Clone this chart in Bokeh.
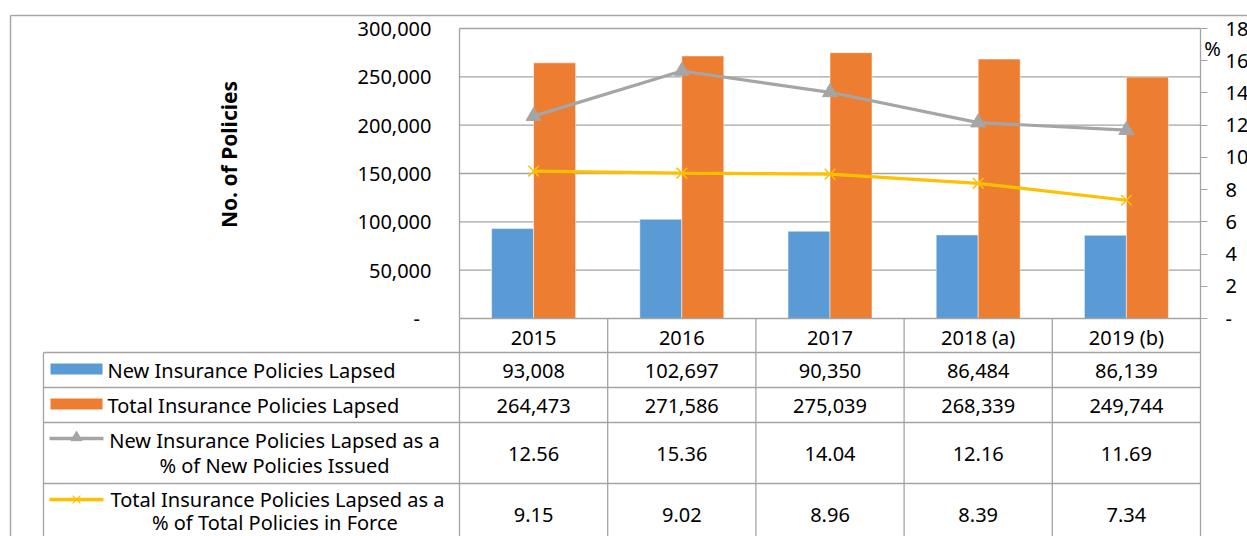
import math
from bokeh.plotting import figure
from bokeh.models import Range1d, LinearAxis, FixedTicker, NumeralTickFormatter, ColumnDataSource
from bokeh.core.properties import value
from bokeh.transform import dodge
from bokeh.embed import file_html
from bokeh.resources import INLINE

# ---------------- data ----------------
years = ["2015", "2016", "2017", "2018 (a)", "2019 (b)"]
new_lapsed = [93008, 102697, 90350, 86484, 86139]
total_lapsed = [264473, 271586, 275039, 268339, 249744]
new_pct = [12.56, 15.36, 14.04, 12.16, 11.69]
total_pct = [9.15, 9.02, 8.96, 8.39, 7.34]

cnt_ticks = [0, 50000, 100000, 150000, 200000, 250000, 300000]
pct_ticks = [0, 2, 4, 6, 8, 10, 12, 14, 16, 18]

y_title = "No. of Policies"
pct_title = "%"
name_new = "New Insurance Policies Lapsed"
name_total = "Total Insurance Policies Lapsed"
name_newp = ["New Insurance Policies Lapsed as a", "% of New Policies Issued"]
name_totp = ["Total Insurance Policies Lapsed as a", "% of  Total Policies in Force"]

# ---------------- styles ----------------
BLUE, ORANGE, GRAY, YELLOW = "#5B9BD5", "#ED7D31", "#A5A5A5", "#FFC000"
LINE = "#A3A3A3"
FONT = "Noto Sans"
FS = "20px"

# ---------------- layout (page pixel coordinates) ----------------
W, H = 1247, 536
OX, OY = 0, 0
def fx(x):
    return x - OX
def fy(y):
    return H + OY - y

PL, PR, PT, PB = 459, 1200, 28, 318
n = len(years)
CNT_MAX = cnt_ticks[-1]
PCT_MAX = pct_ticks[-1]
unit = (PR - PL) / n
cat_range = Range1d(-fx(PL) / unit, (W - fx(PL)) / unit)
cnt_per = CNT_MAX / (PB - PT)
cnt_range = Range1d(-fy(PB) * cnt_per, CNT_MAX + (H - fy(PT)) * cnt_per)
pct_per = PCT_MAX / (PB - PT)
pct_range = Range1d(-fy(PB) * pct_per, PCT_MAX + (H - fy(PT)) * pct_per)

p = figure(width=W, height=H, x_range=Range1d(0, W), y_range=Range1d(0, H),
           x_axis_type=None, y_axis_type=None, toolbar_location=None,
           output_backend="svg", min_border=0, outline_line_color=None,
           background_fill_color="white", border_fill_color="white")
p.title.visible = False
p.extra_x_ranges = {"cat": cat_range}
p.extra_y_ranges = {"cnt": cnt_range, "pct": pct_range}

src = ColumnDataSource(dict(
    xc=[i + 0.5 for i in range(n)],
    year=years,
    new=new_lapsed, total=total_lapsed,
    newp=new_pct, totp=total_pct,
    new_s=[f"{v:,}" for v in new_lapsed],
    total_s=[f"{v:,}" for v in total_lapsed],
    newp_s=[f"{v:.2f}" for v in new_pct],
    totp_s=[f"{v:.2f}" for v in total_pct],
))

# outer chart border
p.segment(x0=[fx(10), fx(10)], y0=[fy(15), fy(15)], x1=[W, fx(10)], y1=[fy(15), 0],
          line_color="#A6A6A6", line_width=1.5)

# gridlines
p.segment(x0=0, x1=n, y0=cnt_ticks[1:], y1=cnt_ticks[1:], x_range_name="cat",
          y_range_name="cnt", line_color=LINE, line_width=1.3)

# bars
bw = 42 / unit
p.vbar(x=dodge("xc", -bw / 2), top="new", bottom=0, width=bw, source=src,
       x_range_name="cat", y_range_name="cnt", fill_color=BLUE,
       line_color="white", line_alpha=0.5, line_width=1)
p.vbar(x=dodge("xc", bw / 2), top="total", bottom=0, width=bw, source=src,
       x_range_name="cat", y_range_name="cnt", fill_color=ORANGE,
       line_color="white", line_alpha=0.5, line_width=1)

# lines
p.line(x="xc", y="newp", source=src, x_range_name="cat", y_range_name="pct",
       line_color=GRAY, line_width=3.2)
p.scatter(x="xc", y="newp", source=src, x_range_name="cat", y_range_name="pct",
          marker="triangle", size=15, fill_color=GRAY, line_color=GRAY)
p.line(x="xc", y="totp", source=src, x_range_name="cat", y_range_name="pct",
       line_color=YELLOW, line_width=3.2)
p.scatter(x="xc", y="totp", source=src, x_range_name="cat", y_range_name="pct",
          marker="x", size=15, line_color=YELLOW, line_width=1.5)

# axes
left = LinearAxis(y_range_name="cnt", ticker=FixedTicker(ticks=cnt_ticks),
                  bounds=(0, CNT_MAX), fixed_location=fx(PL),
                  formatter=NumeralTickFormatter(format="0,0"))
left.major_label_overrides = {0: "-\u2007"}
left.axis_line_color = LINE
left.axis_line_width = 1.3
left.major_tick_out = 0
left.major_tick_in = 0
left.minor_tick_out = 0
left.minor_tick_in = 0
left.major_label_standoff = 28
left.major_label_text_font = FONT
left.major_label_text_font_size = FS
left.major_label_text_color = "black"
p.add_layout(left, "left")

right = LinearAxis(y_range_name="pct", ticker=FixedTicker(ticks=pct_ticks),
                   bounds=(0, PCT_MAX), fixed_location=fx(PR))
right.major_label_overrides = {0: "-"}
right.axis_line_color = LINE
right.axis_line_width = 1.3
right.major_tick_line_color = LINE
right.major_tick_out = 7
right.major_tick_in = 0
right.minor_tick_out = 0
right.minor_tick_in = 0
right.major_label_standoff = 18
right.major_label_text_font = FONT
right.major_label_text_font_size = FS
right.major_label_text_color = "black"
p.add_layout(right, "right")

# axis titles
p.text(x=[fx(228)], y=[fy(154)], text=[y_title], angle=math.pi / 2,
       text_align="center", text_baseline="middle", text_font=value(FONT),
       text_font_size="21px", text_font_style="bold", text_color="black")
p.text(x=[fx(1212)], y=[fy(48)], text=[pct_title], text_align="center",
       text_baseline="middle", text_font=value(FONT), text_font_size=FS,
       text_color="black")

# ---------------- data table ----------------
TL = 43
rows_y = [318, 352, 387, 422, 483]
hx0 = [fx(PL)] + [fx(TL)] * 4
hx1 = [fx(PR)] * 5
p.segment(x0=hx0, x1=hx1, y0=[fy(v) for v in rows_y], y1=[fy(v) for v in rows_y],
          line_color=LINE, line_width=1.3)
p.segment(x0=list(range(n + 1)), x1=list(range(n + 1)), y0=fy(PB), y1=0,
          x_range_name="cat", line_color=LINE, line_width=1.3)
p.segment(x0=[fx(TL)], x1=[fx(TL)], y0=[fy(352)], y1=[0], line_color=LINE, line_width=1.3)

def row_text(col, yc):
    p.text(x="xc", y=fy(yc), text=col, source=src, x_range_name="cat",
           text_align="center", text_baseline="middle", text_font=value(FONT),
           text_font_size=FS, text_color="black")

row_text("year", 337)
row_text("new_s", 370)
row_text("total_s", 405)
row_text("newp_s", 453)
row_text("totp_s", 514)

# legend keys
p.quad(left=[fx(50)], right=[fx(102)], top=[fy(363)], bottom=[fy(374)],
       fill_color=BLUE, line_color=None)
p.quad(left=[fx(50)], right=[fx(102)], top=[fy(398)], bottom=[fy(409)],
       fill_color=ORANGE, line_color=None)
p.segment(x0=[fx(49)], x1=[fx(103)], y0=[fy(438)], y1=[fy(438)],
          line_color=GRAY, line_width=3.5)
p.scatter(x=[fx(76)], y=[fy(437)], marker="triangle", size=11,
          fill_color=GRAY, line_color=GRAY)
p.segment(x0=[fx(49)], x1=[fx(103)], y0=[fy(499)], y1=[fy(499)],
          line_color=YELLOW, line_width=3.5)
p.scatter(x=[fx(76)], y=[fy(499)], marker="x", size=11,
          line_color=YELLOW, line_width=1.3)

def leg_text(t, x, y, align="left"):
    p.text(x=[fx(x)], y=[fy(y)], text=[t], text_align=align, text_baseline="middle",
           text_font=value(FONT), text_font_size=FS, text_color="black")

leg_text(name_new, 107, 370)
leg_text(name_total, 107, 405)
leg_text(name_newp[0], 274, 440, "center")
leg_text(name_newp[1], 274, 465, "center")
leg_text(name_totp[0], 277, 499, "center")
leg_text(name_totp[1], 277, 522, "center")

open("out.html", "w").write(file_html(p, INLINE))
